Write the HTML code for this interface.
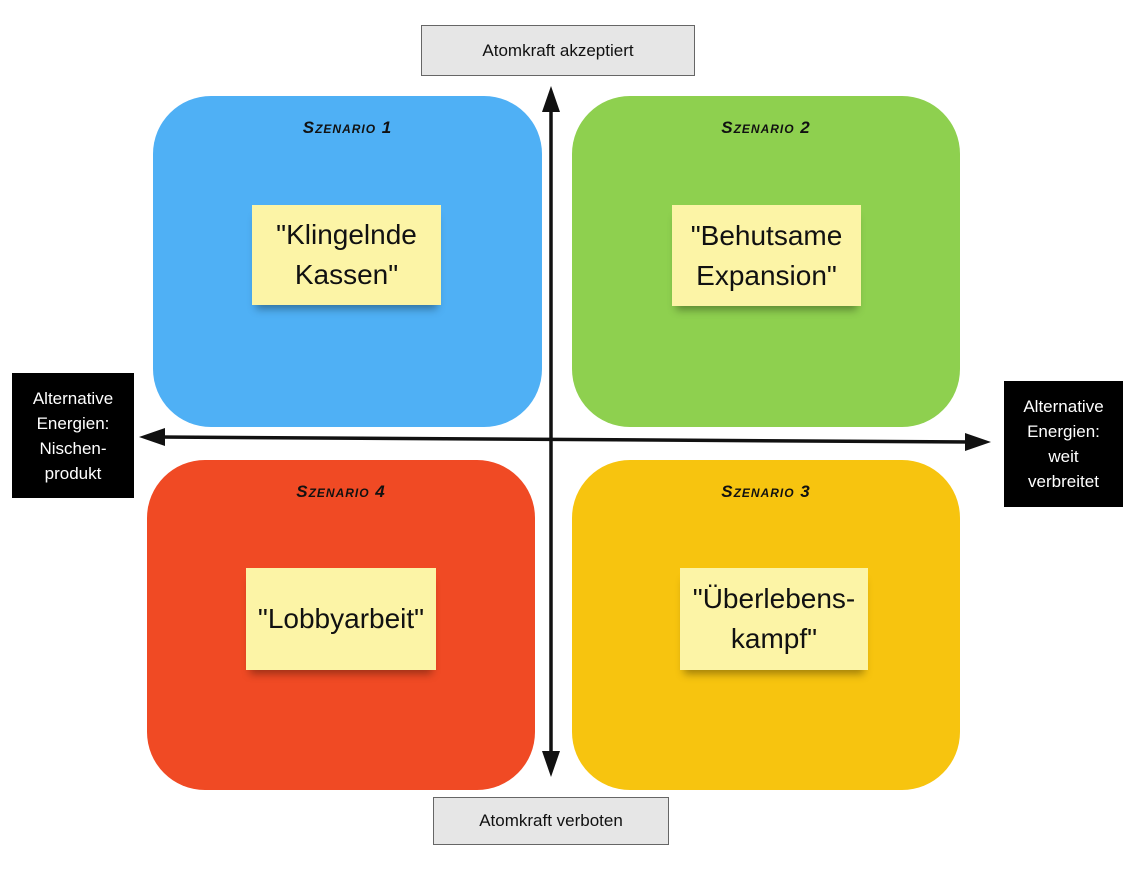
<!DOCTYPE html>
<html><head><meta charset="utf-8"><style>
body{margin:0;width:1145px;height:876px;background:#fff;position:relative;overflow:hidden;font-family:"Liberation Sans",sans-serif}
.q{position:absolute;border-radius:58px}
.t{position:absolute;font-family:"Liberation Sans",sans-serif;font-weight:bold;font-style:italic;font-size:17px;letter-spacing:1px;color:#111;text-align:center;font-variant:small-caps}
.n{position:absolute;background:#fcf4a6;box-shadow:0 8px 8px -4px rgba(0,0,0,.35);display:flex;align-items:center;justify-content:center;text-align:center;font-size:28px;line-height:40px;color:#111}
.g{position:absolute;background:#e6e6e6;border:1px solid #666;display:flex;align-items:center;justify-content:center;font-size:17px;color:#111;box-sizing:border-box}
.b{position:absolute;background:#000;color:#fff;display:flex;align-items:center;justify-content:center;text-align:center;font-size:17px;line-height:25px;box-sizing:border-box}
</style></head><body>
<div class="g" style="left:421px;top:25px;width:274px;height:51px">Atomkraft akzeptiert</div>
<div class="g" style="left:433px;top:797px;width:236px;height:48px">Atomkraft verboten</div>
<div class="q" style="left:153px;top:96px;width:389px;height:331px;background:#4fb0f5"></div>
<div class="q" style="left:572px;top:96px;width:388px;height:331px;background:#8ed04f"></div>
<div class="q" style="left:147px;top:460px;width:388px;height:330px;background:#f04a24"></div>
<div class="q" style="left:572px;top:460px;width:388px;height:330px;background:#f7c40f"></div>
<div class="t" style="left:153px;top:118px;width:389px">Szenario 1</div>
<div class="t" style="left:572px;top:118px;width:388px">Szenario 2</div>
<div class="t" style="left:147px;top:482px;width:388px">Szenario 4</div>
<div class="t" style="left:572px;top:482px;width:388px">Szenario 3</div>
<div class="n" style="left:252px;top:205px;width:189px;height:100px">"Klingelnde<br>Kassen"</div>
<div class="n" style="left:672px;top:205px;width:189px;height:101px">"Behutsame<br>Expansion"</div>
<div class="n" style="left:246px;top:568px;width:190px;height:102px">"Lobbyarbeit"</div>
<div class="n" style="left:680px;top:568px;width:188px;height:102px">"Überlebens-<br>kampf"</div>
<div class="b" style="left:12px;top:373px;width:122px;height:125px">Alternative<br>Energien:<br>Nischen-<br>produkt</div>
<div class="b" style="left:1004px;top:381px;width:119px;height:126px">Alternative<br>Energien:<br>weit<br>verbreitet</div>
<svg width="1145" height="876" style="position:absolute;left:0;top:0">
<line x1="551" y1="105" x2="551" y2="760" stroke="#111" stroke-width="3.5"/>
<polygon points="551,86 542,112 560,112" fill="#111"/>
<polygon points="551,777 542,751 560,751" fill="#111"/>
<line x1="158" y1="437" x2="972" y2="442" stroke="#111" stroke-width="3.5"/>
<polygon points="139,437 165,428 165,446" fill="#111"/>
<polygon points="991,442 965,433 965,451" fill="#111"/>
</svg>
</body></html>
